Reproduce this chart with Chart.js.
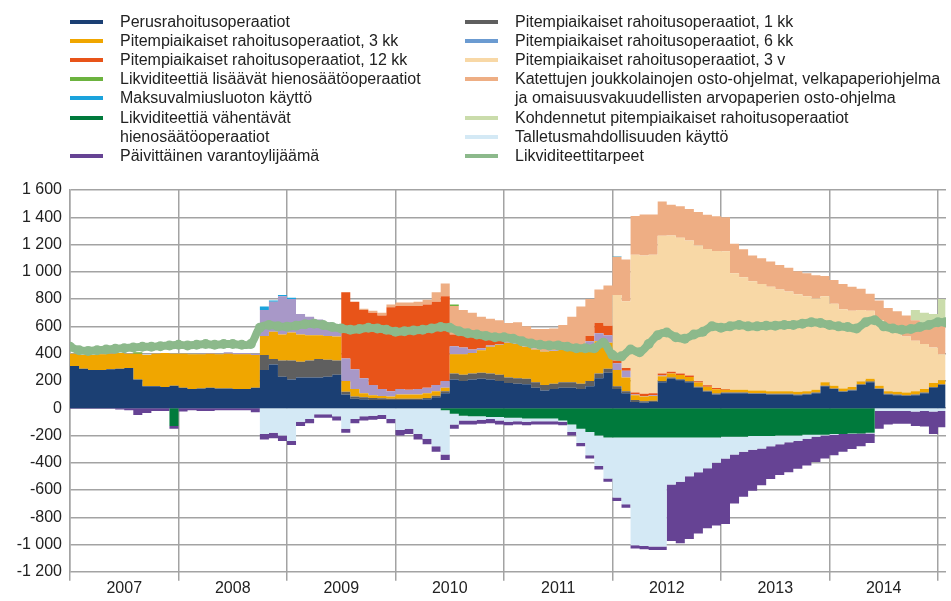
<!DOCTYPE html>
<html lang="fi">
<head>
<meta charset="utf-8">
<title>Eurojärjestelmän likviditeetti</title>
<script src="https://cdn.jsdelivr.net/npm/chart.js@4.4.1/dist/chart.umd.min.js"></script>
<style>
  html, body { margin: 0; padding: 0; background: #fff; }
  #wrap { position: relative; width: 951px; height: 601px; overflow: hidden; }
  #chart { position: absolute; left: 0; top: 0; }
  .item { position: absolute; font: 16px "Liberation Sans", Arial, sans-serif; color: #222; line-height: 19px; white-space: pre; }
  .swatch { position: absolute; width: 33px; height: 4px; }
</style>
</head>
<body>
<div id="wrap">
  <canvas id="chart" width="951" height="601"></canvas>
  <div id="legend"></div>
</div>
<script>
// Monthly values, mrd. euroa, January 2007 ... January 2015 (one row per year)
const firstYear = 2007;
const yearLabels = ['2007', '2008', '2009', '2010', '2011', '2012', '2013', '2014'];

const perus = [
  310, 290, 280, 280, 285, 290, 295, 210, 160, 160, 155, 165,
  150, 140, 145, 150, 145, 145, 140, 140, 150, 280, 320, 230,
  210, 225, 225, 225, 230, 245, 100, 70, 65, 60, 60, 60,
  60, 60, 60, 65, 80, 110, 210, 200, 210, 215, 210, 200,
  185, 180, 175, 150, 130, 140, 150, 150, 140, 160, 220, 260,
  140, 110, 45, 40, 45, 190, 215, 205, 190, 150, 120, 100,
  110, 110, 110, 105, 105, 100, 100, 100, 95, 100, 110, 160,
  140, 120, 130, 170, 190, 140, 100, 95, 90, 95, 110, 150,
  170
];
const pitkat1kk = [
  0, 0, 0, 0, 0, 0, 0, 0, 0, 0, 0, 0,
  0, 0, 0, 0, 0, 0, 0, 0, 0, 110, 40, 120,
  140, 115, 125, 135, 125, 105, 20, 15, 15, 15, 12, 10,
  10, 10, 10, 10, 12, 15, 45, 45, 45, 45, 45, 45,
  40, 40, 40, 40, 40, 40, 40, 40, 40, 40, 35, 30,
  20, 15, 15, 10, 10, 10, 10, 8, 8, 8, 8, 8,
  5, 5, 5, 5, 5, 5, 5, 5, 5, 5, 5, 5,
  5, 5, 5, 5, 5, 5, 5, 5, 5, 5, 5, 5,
  5
];
const pitkat3kk = [
  90, 100, 110, 115, 115, 115, 105, 190, 230, 240, 250, 235,
  250, 255, 250, 250, 250, 255, 255, 255, 240, 140, 200, 190,
  205, 200, 185, 175, 175, 175, 80, 55, 30, 20, 18, 15,
  30, 30, 30, 35, 33, 25, 140, 150, 150, 165, 195, 220,
  255, 250, 235, 240, 245, 240, 240, 235, 240, 240, 235, 190,
  120, 100, 35, 35, 35, 35, 30, 30, 30, 30, 30, 30,
  20, 20, 20, 20, 20, 20, 20, 20, 20, 20, 20, 25,
  20, 20, 20, 20, 20, 20, 20, 20, 20, 25, 25, 30,
  30
];
const pitkat6kk = [
  0, 0, 0, 0, 0, 0, 0, 0, 0, 0, 0, 0,
  0, 0, 5, 5, 5, 10, 10, 10, 10, 190, 220, 280,
  245, 150, 135, 115, 100, 90, 165, 145, 110, 75, 50, 40,
  40, 35, 40, 40, 45, 50, 60, 50, 25, 15, 10, 5,
  5, 5, 5, 5, 5, 5, 5, 10, 30, 50, 60, 55,
  50, 50, 5, 5, 5, 5, 0, 0, 0, 0, 0, 0,
  0, 0, 0, 0, 0, 0, 0, 0, 0, 0, 0, 0,
  0, 0, 0, 0, 0, 0, 0, 0, 0, 0, 0, 0,
  0
];
const pitkat12kk = [
  0, 0, 0, 0, 0, 0, 0, 0, 0, 0, 0, 0,
  0, 0, 0, 0, 0, 0, 0, 0, 0, 0, 0, 0,
  0, 0, 0, 0, 0, 0, 485, 495, 500, 530, 540, 615,
  610, 615, 610, 610, 610, 620, 85, 90, 95, 75, 45, 25,
  0, 0, 0, 0, 0, 0, 0, 0, 0, 40, 75, 70,
  20, 20, 15, 15, 15, 15, 12, 12, 12, 10, 10, 10,
  5, 0, 0, 0, 0, 0, 0, 0, 0, 0, 0, 0,
  0, 0, 0, 0, 0, 0, 0, 0, 0, 0, 0, 0,
  0
];
const pitkat3v = [
  0, 0, 0, 0, 0, 0, 0, 0, 0, 0, 0, 0,
  0, 0, 0, 0, 0, 0, 0, 0, 0, 0, 0, 0,
  0, 0, 0, 0, 0, 0, 0, 0, 0, 0, 0, 0,
  0, 0, 0, 0, 0, 0, 0, 0, 0, 0, 0, 0,
  0, 0, 0, 0, 0, 0, 0, 0, 0, 0, 0, 0,
  480, 490, 1010, 1015, 1015, 1010, 1000, 995, 990, 995, 1000, 1005,
  1010, 855, 825, 800, 780, 765, 745, 730, 715, 695, 670, 630,
  600, 580, 560, 525, 500, 480, 465, 440, 410, 370, 330, 260,
  190
];
const ostoohjelmat = [
  0, 0, 0, 0, 0, 0, 0, 0, 0, 0, 0, 0,
  0, 0, 0, 0, 0, 0, 0, 0, 0, 0, 0, 0,
  0, 0, 0, 0, 0, 0, 0, 0, 10, 15, 20, 20,
  25, 25, 30, 35, 70, 95, 210, 185, 175, 155, 150, 150,
  140, 155, 145, 145, 160, 160, 175, 235, 295, 270, 245, 295,
  280, 305, 285, 300, 295, 250, 225, 230, 230, 245, 250, 255,
  250, 215, 205, 190, 190, 185, 180, 175, 170, 170, 170, 150,
  175, 185, 175, 155, 125, 145, 145, 150, 155, 150, 155, 165,
  205
];
const kohdennetut = [
  0, 0, 0, 0, 0, 0, 0, 0, 0, 0, 0, 0,
  0, 0, 0, 0, 0, 0, 0, 0, 0, 0, 0, 0,
  0, 0, 0, 0, 0, 0, 0, 0, 0, 0, 0, 0,
  0, 0, 0, 0, 0, 0, 0, 0, 0, 0, 0, 0,
  0, 0, 0, 0, 0, 0, 0, 0, 0, 0, 0, 0,
  0, 0, 0, 0, 0, 0, 0, 0, 0, 0, 0, 0,
  0, 0, 0, 0, 0, 0, 0, 0, 0, 0, 0, 0,
  0, 0, 0, 0, 0, 0, 0, 0, 0, 75, 75, 80,
  200
];
const hienosaatoLisaavat = [
  0, 0, 0, 0, 0, 0, 0, 10, 0, 0, 0, 0,
  0, 0, 0, 0, 0, 0, 0, 0, 0, 0, 0, 0,
  0, 0, 0, 0, 0, 0, 0, 0, 0, 0, 0, 0,
  0, 0, 0, 0, 0, 0, 10, 0, 0, 0, 0, 0,
  0, 0, 0, 0, 0, 0, 0, 0, 0, 0, 0, 0,
  0, 0, 0, 0, 0, 0, 0, 0, 0, 0, 0, 0,
  0, 0, 0, 0, 0, 0, 0, 0, 0, 0, 0, 0,
  0, 0, 0, 0, 0, 0, 0, 0, 0, 0, 0, 0,
  0
];
const maksuvalmius = [
  0, 0, 0, 0, 0, 0, 0, 0, 0, 0, 0, 0,
  0, 0, 0, 0, 0, 0, 0, 0, 0, 25, 10, 10,
  10, 0, 0, 0, 0, 0, 0, 0, 0, 0, 0, 0,
  0, 0, 0, 0, 0, 0, 0, 0, 0, 0, 0, 0,
  0, 0, 0, 0, 0, 0, 0, 0, 0, 0, 0, 0,
  5, 0, 0, 0, 0, 0, 0, 0, 0, 0, 0, 0,
  0, 0, 0, 0, 0, 0, 0, 0, 0, 0, 0, 0,
  0, 0, 0, 0, 0, 0, 0, 0, 0, 0, 0, 0,
  0
];
const hienosaatoVahentavat = [
  0, 0, 0, 0, 0, 0, 0, 0, 0, 0, 0, -130,
  0, 0, 0, 0, 0, 0, 0, 0, 0, 0, 0, 0,
  0, 0, 0, 0, 0, 0, 0, 0, 0, 0, 0, 0,
  0, 0, 0, 0, 0, -15, -40, -55, -60, -60, -65, -65,
  -70, -70, -75, -75, -75, -75, -90, -120, -150, -175, -200, -215,
  -215, -215, -215, -215, -215, -215, -215, -215, -215, -215, -215, -215,
  -210, -210, -210, -205, -205, -205, -200, -200, -200, -195, -195, -195,
  -190, -190, -185, -185, -180, 0, 0, 0, 0, 0, 0, 0,
  0
];
const talletus = [
  0, 0, 0, 0, 0, 0, 0, 0, 0, 0, 0, 0,
  0, 0, 0, 0, 0, 0, 0, 0, 0, -190, -180, -200,
  -240, -100, -80, -45, -45, -60, -150, -80, -60, -55, -50, -80,
  -160, -150, -190, -225, -280, -325, -80, -35, -30, -25, -15, -25,
  -30, -25, -25, -20, -20, -20, -10, -55, -105, -170, -225, -300,
  -440, -490, -790, -795, -800, -800, -345, -325, -285, -255, -225, -185,
  -160, -130, -110, -100, -90, -75, -65, -50, -40, -30, -15, -5,
  -5, 0, -5, 0, -5, -20, -20, -20, -20, -25, -20, -25,
  -20
];
const varantoylijaama = [
  -5, -5, -5, -5, -5, -10, -15, -50, -35, -20, -20, -20,
  -25, -15, -20, -20, -15, -15, -15, -15, -30, -40, -40, -40,
  -30, -30, -30, -25, -25, -30, -30, -30, -30, -30, -30, -30,
  -40, -40, -40, -40, -40, -40, -30, -30, -30, -30, -30, -30,
  -25, -25, -25, -25, -25, -25, -25, -25, -25, -25, -25, -25,
  -25, -25, -25, -25, -25, -25, -415, -450, -460, -450, -440, -460,
  -480, -360, -330, -300, -270, -240, -225, -220, -205, -195, -185, -170,
  -150, -130, -110, -95, -70, -130, -100, -95, -95, -105, -115, -165,
  -120
];
const likviditeettitarpeet = [
  450, 425, 420, 425, 430, 435, 440, 445, 450, 450, 455, 460,
  465, 460, 465, 470, 465, 470, 470, 465, 470, 590, 610, 600,
  597, 605, 615, 620, 610, 595, 585, 575, 580, 590, 585, 575,
  560, 565, 570, 575, 585, 595, 590, 565, 550, 540, 530, 520,
  520, 510, 490, 475, 465, 460, 460, 450, 440, 440, 440, 480,
  390, 380, 430, 410, 470, 535, 555, 520, 510, 540, 560, 600,
  590, 600, 610, 600, 600, 605, 605, 610, 610, 620, 630, 625,
  610, 600, 595, 585, 630, 645, 600, 585, 575, 580, 595, 610,
  630
];

const dataEnd = 2015.07;
const gridColor = '#a3a3a3';

function toPoints(values) {
  const pts = values.map((v, i) => ({ x: firstYear + i / 12, y: v }));
  // hold the last month until the end of the series
  pts.push({ x: dataEnd, y: values[values.length - 1] });
  return pts;
}

// stacked layers, bottom up; legend: [column, row, text]
const layers = [
  { values: perus, color: '#1b3f73', stack: 'pos', legend: [0, 0, 'Perusrahoitusoperaatiot'] },
  { values: pitkat1kk, color: '#5f5f5f', stack: 'pos', legend: [1, 0, 'Pitempiaikaiset rahoitusoperaatiot, 1 kk'] },
  { values: pitkat3kk, color: '#f0a600', stack: 'pos', legend: [0, 1, 'Pitempiaikaiset rahoitusoperaatiot, 3 kk'] },
  { values: pitkat6kk, color: '#a898c8', swatch: '#6b9bd1', stack: 'pos', legend: [1, 1, 'Pitempiaikaiset rahoitusoperaatiot, 6 kk'] },
  { values: pitkat12kk, color: '#e85419', stack: 'pos', legend: [0, 2, 'Pitempiaikaiset rahoitusoperaatiot, 12 kk'] },
  { values: pitkat3v, color: '#f8d8a6', stack: 'pos', legend: [1, 2, 'Pitempiaikaiset rahoitusoperaatiot, 3 v'] },
  { values: ostoohjelmat, color: '#eeae84', stack: 'pos', legend: [1, 3, 'Katettujen joukkolainojen osto-ohjelmat, velkapaperiohjelma\nja omaisuusvakuudellisten arvopaperien osto-ohjelma'] },
  { values: kohdennetut, color: '#cadcab', stack: 'pos', legend: [1, 5, 'Kohdennetut pitempiaikaiset rahoitusoperaatiot'] },
  { values: hienosaatoLisaavat, color: '#6cb33f', stack: 'pos', legend: [0, 3, 'Likviditeettiä lisäävät hienosäätöoperaatiot'] },
  { values: maksuvalmius, color: '#1ba3dc', stack: 'pos', legend: [0, 4, 'Maksuvalmiusluoton käyttö'] },
  { values: hienosaatoVahentavat, color: '#007a3c', stack: 'neg', legend: [0, 5, 'Likviditeettiä vähentävät\nhienosäätöoperaatiot'] },
  { values: talletus, color: '#d4e9f5', stack: 'neg', legend: [1, 6, 'Talletusmahdollisuuden käyttö'] },
  { values: varantoylijaama, color: '#664394', stack: 'neg', legend: [0, 7, 'Päivittäinen varantoylijäämä'] }
];
const needLine = { values: likviditeettitarpeet, color: '#8cb98b', legend: [1, 7, 'Likviditeettitarpeet'] };

const datasets = layers.map((l, i) => ({
  label: l.legend[2].replace('\n', ' '),
  data: toPoints(l.values),
  stack: l.stack,
  backgroundColor: l.color,
  borderWidth: 0,
  pointRadius: 0,
  stepped: true,
  fill: (i === 0 || layers[i - 1].stack !== l.stack) ? 'origin' : '-1'
}));
datasets.push({
  label: needLine.legend[2],
  data: toPoints(needLine.values),
  stack: 'need',
  order: -1,
  borderColor: needLine.color,
  backgroundColor: needLine.color,
  borderWidth: 8,
  pointRadius: 5,
  pointBorderWidth: 0,
  tension: 0.35,
  fill: false
});

// legend in two columns above the plot
const legendBox = document.getElementById('legend');
[...layers, needLine].forEach(l => {
  const [col, row, text] = l.legend;
  const cy = 22 + row * 19.1;
  const sw = document.createElement('div');
  sw.className = 'swatch';
  sw.style.left = (col ? 465 : 70) + 'px';
  sw.style.top = (cy - 2) + 'px';
  sw.style.background = l.swatch || l.color;
  const tx = document.createElement('div');
  tx.className = 'item';
  tx.style.left = (col ? 515 : 120) + 'px';
  tx.style.top = (cy - 10) + 'px';
  tx.textContent = text;
  legendBox.appendChild(sw);
  legendBox.appendChild(tx);
});

const isYearTick = ctx => ctx.tick && Number.isInteger(ctx.tick.value);

Chart.defaults.font.family = '"Liberation Sans", Arial, sans-serif';
Chart.defaults.font.size = 16;
Chart.defaults.color = '#222';

new Chart(document.getElementById('chart'), {
  type: 'line',
  data: { datasets },
  options: {
    responsive: false,
    animation: false,
    layout: { padding: { top: 190, left: 0, right: 0, bottom: 5 } },
    plugins: { legend: { display: false }, tooltip: { enabled: false } },
    scales: {
      x: {
        type: 'linear',
        min: firstYear,
        max: 2015.074,
        afterBuildTicks: scale => {
          const ticks = [];
          yearLabels.forEach((_, i) => {
            ticks.push({ value: firstYear + i });
            ticks.push({ value: firstYear + i + 0.5 });
          });
          ticks.push({ value: firstYear + yearLabels.length });
          scale.ticks = ticks;
        },
        ticks: {
          autoSkip: false,
          maxRotation: 0,
          padding: -2,
          callback: v => Number.isInteger(v) ? '' : yearLabels[Math.floor(v) - firstYear]
        },
        grid: {
          color: ctx => isYearTick(ctx) ? gridColor : 'rgba(0,0,0,0)',
          tickColor: ctx => isYearTick(ctx) ? gridColor : 'rgba(0,0,0,0)',
          lineWidth: 1.5,
          tickLength: 9
        },
        border: { display: false }
      },
      y: {
        stacked: true,
        min: -1200,
        max: 1600,
        afterFit: scale => { scale.width = 70; },
        ticks: {
          stepSize: 200,
          padding: 8,
          callback: v => (v < 0 ? '-' : '') + String(Math.abs(v)).replace(/\B(?=(\d{3})+(?!\d))/g, ' ')
        },
        grid: { color: gridColor, lineWidth: 1.5, drawTicks: false },
        border: { color: gridColor, width: 1.5 }
      }
    }
  }
});
</script>
</body>
</html>
